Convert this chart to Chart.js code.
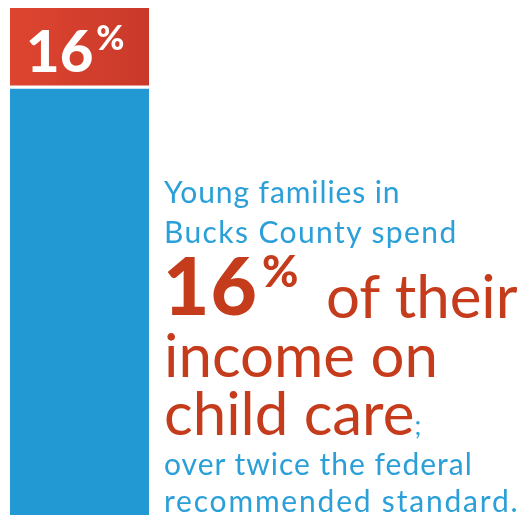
<!DOCTYPE html>
<html>
<head>
<meta charset="utf-8">
<script src="https://cdn.jsdelivr.net/npm/chart.js@4/dist/chart.umd.min.js"></script>
<style>
  html, body { margin: 0; padding: 0; background: #fff; }
  #wrap { position: relative; width: 523px; height: 515px; overflow: hidden; }
  #shareChart { position: absolute; left: 0; top: 0; }
  .txt { position: absolute; left: 164px; white-space: nowrap; font-family: Lato, sans-serif; line-height: 1; }
  .blue { color: #2a9fd8; font-size: 30px; }
  .red { color: #c53c1c; font-size: 60px; }
</style>
</head>
<body>
<div id="wrap">
  <canvas id="shareChart" width="523" height="515"></canvas>
  <div class="txt blue" style="top:176px;letter-spacing:0.9px;">Young families in</div>
  <div class="txt blue" style="top:216px;letter-spacing:1.4px;">Bucks County spend</div>
  <div class="txt red" style="top:244px;left:163px;font-size:80px;font-weight:900;letter-spacing:1px;">16</div>
  <div class="txt red" style="top:248px;left:262px;font-size:44px;font-weight:900;">%</div>
  <div class="txt red" style="top:265px;left:326px;">of their</div>
  <div class="txt red" style="top:324px;">income on</div>
  <div class="txt red" style="top:382px;">child care<span style="color:#2a9fd8;font-size:26px;">;</span></div>
  <div class="txt blue" style="top:448px;letter-spacing:1px;">over twice the federal</div>
  <div class="txt blue" style="top:485px;letter-spacing:1.8px;">recommended standard.</div>
</div>
<script>
// share of income, young families in Bucks County
const categories = ["Young families"];
const otherIncome = [84];
const childCare = [16];

// red block is a bit lighter on the left
function redFill(context) {
  let area = context.chart.chartArea;
  if (!area) return "#d6402c";
  let g = context.chart.ctx.createLinearGradient(area.left, 0, area.right, 0);
  g.addColorStop(0, "#de4530");
  g.addColorStop(1, "#c9392a");
  return g;
}

const labelPlugin = {
  id: "barLabel",
  afterDatasetsDraw(chart) {
    let bar = chart.getDatasetMeta(1).data[0];
    let ctx = chart.ctx;
    ctx.save();
    ctx.fillStyle = "#ffffff";
    ctx.textBaseline = "alphabetic";
    ctx.font = "900 58px Lato";
    let left = bar.x - bar.width / 2 + 16;
    let txt = childCare[0].toString();
    ctx.fillText(txt, left, bar.y + 64);
    let w = ctx.measureText(txt).width;
    ctx.font = "900 34px Lato";
    ctx.fillText("%", left + w + 3, bar.y + 42);
    ctx.restore();
  }
};

let ctx = document.getElementById("shareChart").getContext("2d");
let shareChart = new Chart(ctx, {
  type: "bar",
  data: {
    labels: categories,
    datasets: [
      {
        label: "Other",
        data: otherIncome,
        backgroundColor: "#2299d3",
        borderWidth: 0
      },
      {
        label: "Child care",
        data: childCare,
        backgroundColor: redFill,
        borderColor: "#ffffff",
        borderWidth: { bottom: 4, top: 0, left: 0, right: 0 },
        borderSkipped: false
      }
    ]
  },
  options: {
    responsive: false,
    animation: false,
    layout: { padding: { left: 10, right: 374, top: 8, bottom: 0 } },
    datasets: { bar: { barPercentage: 1, categoryPercentage: 1 } },
    scales: {
      x: { stacked: true, display: false },
      y: { stacked: true, display: false, min: 0, max: 100 }
    },
    plugins: {
      legend: { display: false },
      tooltip: { enabled: false }
    }
  },
  plugins: [labelPlugin]
});
</script>
</body>
</html>
